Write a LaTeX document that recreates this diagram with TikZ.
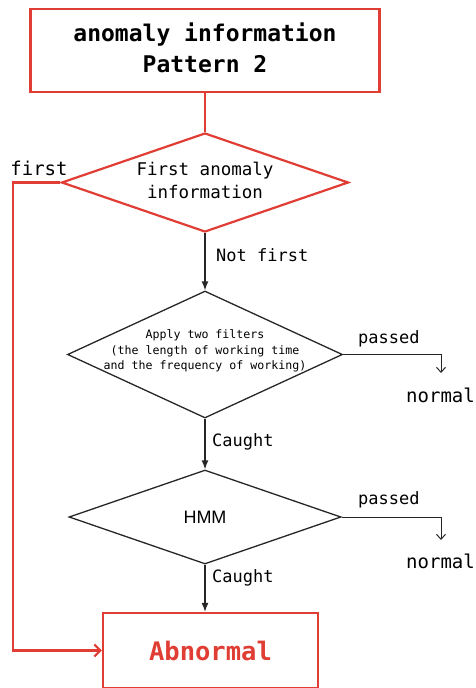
\documentclass[tikz,border=0pt]{standalone}
\usepackage{fontspec}
\setmonofont{DejaVu Sans Mono}
\newfontfamily\hmmfont{Liberation Sans}
\usetikzlibrary{shapes.geometric,arrows.meta}
\definecolor{anomred}{RGB}{224,62,52}
\tikzset{
  redbox/.style={rectangle,draw=anomred,line width=2.2pt},
  redline/.style={draw=anomred,line width=2.2pt},
  blkline/.style={draw=black!85,line width=1.3pt},
  decision/.style={diamond,draw,inner sep=0pt},
  lbl/.style={font=\ttfamily\fontsize{17}{20}\selectfont,inner sep=0pt},
}
\begin{document}
\begin{tikzpicture}[x=1pt,y=-1pt]
\useasboundingbox (0,0) rectangle (476,688);
\begin{scope}
\node (AIP) at (205,50.5) [redbox,minimum width=349pt,minimum height=83pt,font=\ttfamily\bfseries\fontsize{23}{31}\selectfont] {\begin{tabular}{c}anomaly information\\ Pattern 2\end{tabular}};
\node (FAI) at (205,182.5) [decision,draw=anomred,line width=2.2pt,shape aspect=2.9,minimum width=287pt,minimum height=99pt,font=\ttfamily\fontsize{17.5}{23}\selectfont] {\begin{tabular}{c}First anomaly\\ information\end{tabular}};
\node (AFT) at (205,354.5) [decision,blkline,minimum width=275pt,minimum height=127pt] {};
\node (AFTtxt) at (205,351) [inner sep=0pt,font=\ttfamily\fontsize{11.6}{15.5}\selectfont] {\begin{tabular}{@{}c@{}}Apply two filters\\ (the length of working time\\ and the frequency of working)\end{tabular}};
\node (HMM) at (205,517) [decision,blkline,shape aspect=2.9,minimum width=272pt,minimum height=94pt,font=\hmmfont\fontsize{18}{20}\selectfont] {HMM};
\node (ABN) at (210.5,650.5) [redbox,minimum width=215pt,minimum height=75pt,text=anomred,font=\ttfamily\bfseries\fontsize{25.5}{28}\selectfont] {Abnormal};
% labels
\node (first) at (39,168) [lbl,font=\ttfamily\fontsize{19}{20}\selectfont] {first};
\node (notfirst) at (216,255) [lbl,anchor=west] {Not first};
\node (pass1) at (358,339) [lbl,anchor=west] {passed};
\node (norm1) at (440.5,395) [lbl,font=\ttfamily\fontsize{19}{20}\selectfont] {normal};
\node (caught1) at (212,442) [lbl,anchor=west] {Caught};
\node (pass2) at (358,500) [lbl,anchor=west] {passed};
\node (norm2) at (440.5,561) [lbl,font=\ttfamily\fontsize{19}{20}\selectfont] {normal};
\node (caught2) at (212,578) [lbl,anchor=west] {Caught};
\coordinate (bend) at (13,182.5);
\coordinate (out1) at (441,373);
\coordinate (out2) at (441,540);
% connectors
\draw[redline] (AIP.south) -- (FAI.north);
\draw[redline,-{Straight Barb[length=6pt,width=12pt]}] (FAI.west) -- (bend) |- (ABN.west);
\draw[blkline,-{Latex[length=9pt,width=7pt]}] (FAI.south) -- (AFT.north);
\draw[blkline,-{Latex[length=9pt,width=7pt]}] (AFT.south) -- (HMM.north);
\draw[blkline,-{Latex[length=9pt,width=7pt]}] (HMM.south) -- (HMM.south |- ABN.north);
\draw[blkline,line width=1pt,-{Straight Barb[length=5pt,width=9pt]}] (AFT.east) -| (out1);
\draw[blkline,line width=1pt,-{Straight Barb[length=5pt,width=9pt]}] (HMM.east) -| (out2);
\end{scope}
\end{tikzpicture}
\end{document}
